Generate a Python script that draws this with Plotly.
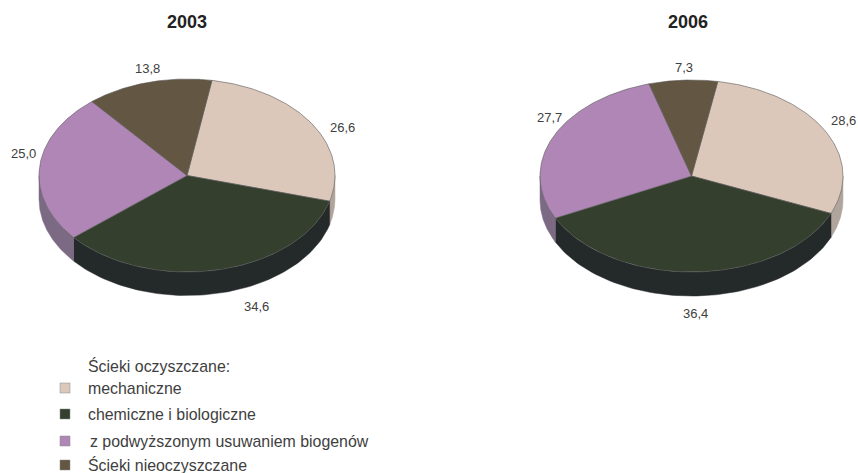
import numpy as np
import plotly.graph_objects as go

# values in percent, in the order of the legend
categories = ["mechaniczne", "chemiczne i biologiczne", "z podwyższonym usuwaniem biogenów", "Ścieki nieoczyszczane"]
values_2003 = [26.6, 34.6, 25.0, 13.8]
values_2006 = [28.6, 36.4, 27.7, 7.3]
labels_2003 = ["26,6", "34,6", "25,0", "13,8"]
labels_2006 = ["28,6", "36,4", "27,7", "7,3"]
legend_title = "Ścieki oczyszczane:"

TOP_COLORS = ["#dcc8bb", "#343f2e", "#af86b5", "#635642"]
SIDE_COLORS = ["#b0a59c", "#24292a", "#7c6a84", "#4a4032"]
OUTLINE = "#5a5a5a"
TEXT_COLOR = "#404040"
FONT = "Liberation Sans"
WIDTH, HEIGHT = 858, 473


def ellipse(pie, degrees):
    t = np.radians(degrees)
    return pie["cx"] + pie["rx"] * np.sin(t), pie["cy"] - pie["ry"] * np.cos(t)


def add_pie(fig, values, pie):
    start = pie["start"]
    for value, top, side in zip(values, TOP_COLORS, SIDE_COLORS):
        end = start + value * 3.6

        # wall, only on the front half of the disc
        lo, hi = max(start, 90), min(end, 270)
        if lo < hi:
            angles = np.linspace(lo, hi, 80)
            x, y = ellipse(pie, angles)
            fig.add_trace(go.Scatter(
                x=np.concatenate([x, x[::-1], x[:1]]),
                y=np.concatenate([y, y[::-1] + pie["depth"], y[:1]]),
                mode="lines", fill="toself", fillcolor=side,
                line=dict(color=side, width=0.5), hoverinfo="skip",
            ))

        angles = np.linspace(start, end, 120)
        x, y = ellipse(pie, angles)
        fig.add_trace(go.Scatter(
            x=np.concatenate([[pie["cx"]], x, [pie["cx"]]]),
            y=np.concatenate([[pie["cy"]], y, [pie["cy"]]]),
            mode="lines", fill="toself", fillcolor=top,
            line=dict(color=OUTLINE, width=0.6), hoverinfo="skip",
        ))
        start = end


PIE_2003 = dict(cx=187, cy=175.5, rx=148, ry=96.5, depth=23.5, start=9.7)
PIE_2006 = dict(cx=691.5, cy=176, rx=151.5, ry=96, depth=24, start=10)

LABEL_POS_2003 = [(342, 127), (256, 306), (23, 153), (147, 68)]
LABEL_POS_2006 = [(843, 120), (695, 313), (549, 117), (684, 67)]
LEGEND_ROWS = [388, 414, 441, 465]

fig = go.Figure()
add_pie(fig, values_2003, PIE_2003)
add_pie(fig, values_2006, PIE_2006)

annotations = []


def add_text(text, x, y, size, anchor="center", bold=False):
    annotations.append(dict(
        x=x, y=y, xref="x", yref="y", text=f"<b>{text}</b>" if bold else text,
        showarrow=False, xanchor=anchor, yanchor="middle",
        font=dict(family=FONT, size=size, color="#222222" if bold else TEXT_COLOR),
    ))


add_text("2003", 187, 22, 18, bold=True)
add_text("2006", 688, 22, 18, bold=True)
for label, (x, y) in zip(labels_2003 + labels_2006, LABEL_POS_2003 + LABEL_POS_2006):
    add_text(label, x, y, 13)

add_text(legend_title, 86, 366, 15.9, anchor="left")
for name, color, row in zip(categories, TOP_COLORS, LEGEND_ROWS):
    add_text(name, 88 if name.startswith("z ") else 86, row, 15.9, anchor="left")
    fig.add_trace(go.Scatter(
        x=[65], y=[row], mode="markers", hoverinfo="skip",
        marker=dict(symbol="square", size=10, color=color, line=dict(color="#8a8a8a", width=0.5)),
    ))

fig.update_layout(
    width=WIDTH, height=HEIGHT,
    margin=dict(l=0, r=0, t=0, b=0),
    paper_bgcolor="white", plot_bgcolor="white",
    showlegend=False,
    annotations=annotations,
)
fig.update_xaxes(range=[0, WIDTH], visible=False, fixedrange=True)
fig.update_yaxes(range=[HEIGHT, 0], visible=False, fixedrange=True)

# drop the default page margin so the figure fills the window
fig.write_html(
    "out.html",
    config=dict(displayModeBar=False),
    post_script="document.body.style.margin = '0'; document.body.style.overflow = 'hidden';",
)
